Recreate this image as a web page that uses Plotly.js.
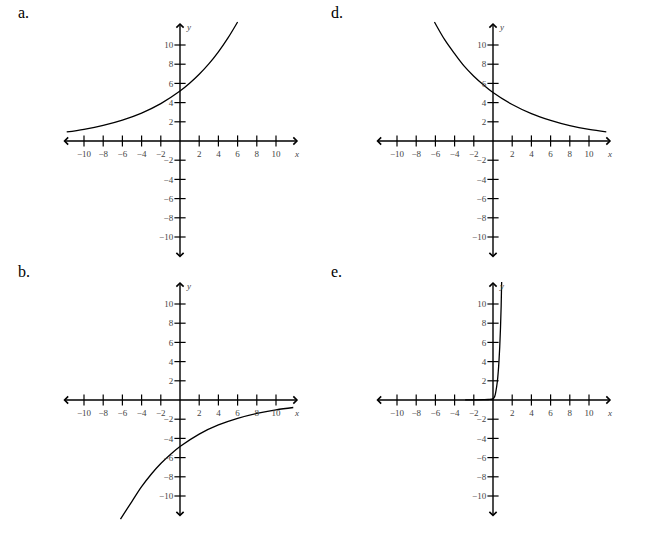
<!DOCTYPE html>
<html>
<head>
<meta charset="utf-8">
<script src="https://cdn.plot.ly/plotly-3.0.1.min.js"></script>
<style>html,body{margin:0;padding:0;background:#fff}</style>
</head>
<body>
<div id="chart" style="width:653px;height:550px"></div>
<script>
// tick labels shown on both axes of every panel
const tickVals = [-10, -8, -6, -4, -2, 2, 4, 6, 8, 10];
const panelLetters = ['a.', 'd.', 'b.', 'e.'];

// a. rising curve
const aX = [-11.8, -10, -8, -6, -4, -2, 0, 1, 2, 3, 4, 5, 6];
const aY = [0.94, 1.22, 1.63, 2.18, 2.91, 3.89, 5.2, 6.01, 6.95, 8.03, 9.29, 10.74, 12.4];
// d. falling curve
const dX = [-6.1, -5, -4, -3, -2, -1, 0, 2, 4, 6, 8, 10, 11.8];
const dY = [12.4, 10.5, 9.1, 7.8, 6.75, 5.85, 5.05, 3.8, 2.85, 2.15, 1.6, 1.2, 0.95];
// b. negative curve
const bX = [-6.2, -5, -4, -3, -2, -1, 0, 2, 4, 6, 8, 10, 11.8];
const bY = [-12.4, -10.55, -9.03, -7.73, -6.62, -5.67, -4.85, -3.55, -2.6, -1.91, -1.4, -1.02, -0.78];
// e. very steep curve
const eX = [-2.9, -2, -1, -0.5, 0, 0.17, 0.3, 0.45, 0.55, 0.62, 0.7, 0.78, 0.85, 0.9];
const eY = [0.02, 0.02, 0.03, 0.05, 0.12, 0.35, 0.9, 1.9, 3.0, 4.0, 5.5, 7.5, 9.8, 12.3];

const curves = [[aX, aY], [dX, dY], [bX, bY], [eX, eY]];

const W = 653, H = 550;
const RANGE = 13, AXIS_END = 12.3, PX_PER_UNIT = 9.6;
// pixel position of each panel's origin
const origins = [[180, 141], [493, 141], [180, 400], [493, 400]];

const serif = 'Liberation Serif, Times New Roman, serif';
const data = [];
const layout = {
  width: W, height: H,
  margin: {l: 0, r: 0, t: 0, b: 0},
  paper_bgcolor: '#fff', plot_bgcolor: 'rgba(0,0,0,0)',
  showlegend: false,
  annotations: [],
};

origins.forEach(([ox, oy], i) => {
  const n = i === 0 ? '' : String(i + 1);
  const xr = 'x' + n, yr = 'y' + n;
  const half = RANGE * PX_PER_UNIT;
  const tickfont = {family: serif, size: 9, color: '#444'};

  layout['xaxis' + n] = {
    domain: [(ox - half) / W, (ox + half) / W],
    range: [-RANGE, RANGE], anchor: 'free', position: 1 - oy / H,
    showgrid: false, zeroline: false, showline: false,
    ticks: 'outside', ticklen: 4, tickcolor: 'rgba(0,0,0,0)',
    tickvals: tickVals, tickfont, fixedrange: true,
  };
  layout['yaxis' + n] = {
    domain: [1 - (oy + half) / H, 1 - (oy - half) / H],
    range: [-RANGE, RANGE], anchor: 'free', position: ox / W,
    showgrid: false, zeroline: false, showline: false,
    ticks: 'outside', ticklen: 5, tickcolor: 'rgba(0,0,0,0)',
    tickvals: tickVals, tickfont, fixedrange: true,
  };

  const [cx, cy] = curves[i];
  data.push({
    x: cx, y: cy, xaxis: xr, yaxis: yr,
    mode: 'lines', type: 'scatter',
    line: {color: '#000', width: 1.3, shape: 'spline', smoothing: 1},
    hoverinfo: 'skip',
  });

  // tick marks crossing the axes
  data.push({
    x: tickVals, y: tickVals.map(() => 0), xaxis: xr, yaxis: yr,
    mode: 'markers', type: 'scatter', cliponaxis: false,
    marker: {symbol: 'line-ns', size: 8, line: {width: 1.2, color: '#000'}},
    hoverinfo: 'skip',
  });
  data.push({
    x: tickVals.map(() => 0), y: tickVals, xaxis: xr, yaxis: yr,
    mode: 'markers', type: 'scatter', cliponaxis: false,
    marker: {symbol: 'line-ew', size: 8, line: {width: 1.2, color: '#000'}},
    hoverinfo: 'skip',
  });

  const arrow = {
    xref: xr, yref: yr, axref: xr, ayref: yr, text: '',
    showarrow: true, arrowside: 'end+start', arrowhead: 4, startarrowhead: 4,
    arrowsize: 1, startarrowsize: 1, arrowwidth: 1.4, arrowcolor: '#000',
    standoff: 0, startstandoff: 0,
  };
  layout.annotations.push({...arrow, x: AXIS_END, y: 0, ax: -AXIS_END, ay: 0});
  layout.annotations.push({...arrow, x: 0, y: AXIS_END, ax: 0, ay: -AXIS_END});

  layout.annotations.push({
    xref: xr, yref: yr, x: 12.1, y: -1.35, text: '<i>x</i>', showarrow: false,
    font: {family: serif, size: 9, color: '#444'},
  });
  layout.annotations.push({
    xref: xr, yref: yr, x: 0.85, y: 11.85, text: '<i>y</i>', showarrow: false,
    font: {family: serif, size: 9, color: '#444'},
  });

  layout.annotations.push({
    xref: 'paper', yref: 'paper', xanchor: 'left', yanchor: 'top',
    x: (ox - 164) / W, y: 1 - (oy - 139) / H, text: panelLetters[i], showarrow: false,
    font: {family: serif, size: 16, color: '#000'},
  });
});

Plotly.newPlot('chart', data, layout, {staticPlot: true, displayModeBar: false});
</script>
</body>
</html>
